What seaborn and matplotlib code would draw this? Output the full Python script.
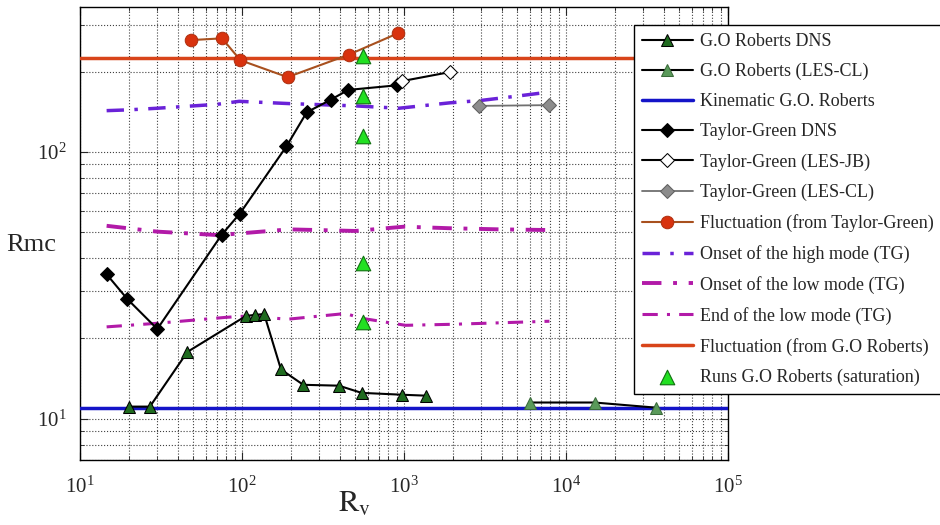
import matplotlib
matplotlib.use("Agg")
import matplotlib.pyplot as plt
import seaborn as sns

# ---- data (log-log) ----
go_dns_x = [20, 27, 46, 106, 120, 137, 174, 239, 396, 547, 973, 1370]
go_dns_y = [11.1, 11.1, 17.8, 24.3, 24.5, 24.7, 15.3, 13.4, 13.3, 12.5, 12.3, 12.2]

go_les_x = [6000, 15000, 36000]
go_les_y = [11.5, 11.5, 11.0]

kinematic_go = 11.0

tg_dns_x = [14.6, 19.6, 30, 75, 97, 188, 251, 352, 452, 906]
tg_dns_y = [34.8, 28.1, 21.7, 49, 58.8, 105, 141, 157, 171, 178]

tg_jb_x = [970, 1920]
tg_jb_y = [184.5, 199.5]

tg_cl_x = [2900, 7900]
tg_cl_y = [149, 150]

fluct_tg_x = [48.5, 75.3, 97.8, 191, 457, 918]
fluct_tg_y = [263, 267, 221, 191, 232, 279]

high_x = [14.6, 20, 30, 50, 70, 96, 195, 500, 930, 1920, 2940, 4940, 7920]
high_y = [143, 144, 146, 149, 151, 155, 152, 149, 146, 153, 156, 162, 168]

low_on_x = [14.6, 30, 72, 195, 500, 1000, 1920, 3900, 7900]
low_on_y = [52.9, 50.3, 48.8, 51.3, 50.6, 52.5, 51.8, 51.3, 51.0]

low_end_x = [14.6, 30, 80, 110, 190, 435, 550, 1020, 2000, 4000, 7900]
low_end_y = [22.1, 22.8, 24.0, 24.3, 23.6, 24.8, 23.8, 22.4, 22.6, 22.9, 23.2]

fluct_go = 226

sat_x = [555, 555, 555, 555, 555]
sat_y = [229, 162, 115, 38.3, 23.1]

sns.set_style("ticks")
plt.rcParams["font.family"] = ["Liberation Serif", "DejaVu Serif"]
plt.rcParams["mathtext.fontset"] = "stix"

fig = plt.figure(figsize=(9.4, 5.25), dpi=100)
ax = fig.add_axes([80 / 940, 1 - 460 / 525, 648 / 940, 453 / 525])
ax.set_xscale("log")
ax.set_yscale("log")

common = dict(ax=ax, sort=False, estimator=None)

sns.lineplot(x=go_dns_x, y=go_dns_y, color="black", lw=1.5, marker="^", markersize=9,
             markerfacecolor="#1f6b1f", markeredgecolor="black", label="G.O Roberts DNS",
             zorder=5, **common)
sns.lineplot(x=go_les_x, y=go_les_y, color="black", lw=1.5, marker="^", markersize=9,
             markerfacecolor="#5a9a5a", markeredgecolor="#3a6a3a", label="G.O Roberts (LES-CL)",
             zorder=5, **common)
ax.axhline(kinematic_go, color="#1414c8", lw=2.5, label="Kinematic G.O. Roberts", zorder=4)
sns.lineplot(x=tg_dns_x, y=tg_dns_y, color="black", lw=1.5, marker="D", markersize=7,
             markerfacecolor="black", markeredgecolor="black", label="Taylor-Green DNS",
             zorder=5, **common)
sns.lineplot(x=tg_jb_x, y=tg_jb_y, color="black", lw=1.5, marker="D", markersize=7,
             markerfacecolor="white", markeredgecolor="black", label="Taylor-Green (LES-JB)",
             zorder=5, **common)
sns.lineplot(x=tg_cl_x, y=tg_cl_y, color="#707070", lw=1.3, marker="D", markersize=7,
             markerfacecolor="#8c8c8c", markeredgecolor="#606060", label="Taylor-Green (LES-CL)",
             zorder=5, **common)
sns.lineplot(x=fluct_tg_x, y=fluct_tg_y, color="#a8501e", lw=1.5, marker="o", markersize=9,
             markerfacecolor="#d8320e", markeredgecolor="#b03010",
             label="Fluctuation (from Taylor-Green)", zorder=5, **common)
sns.lineplot(x=high_x, y=high_y, color="#6a22d8", lw=2.5, linestyle=(0, (5, 3, 1, 3)),
             label="Onset of the high mode (TG)", zorder=3, **common)
sns.lineplot(x=low_on_x, y=low_on_y, color="#b21aa8", lw=2.8, linestyle=(0, (5, 3, 1, 3)),
             label="Onset of the low mode (TG)", zorder=3, **common)
sns.lineplot(x=low_end_x, y=low_end_y, color="#b21aa8", lw=2.2, linestyle=(0, (5, 3, 1, 3)),
             label="End of the low mode (TG)", zorder=3, **common)
ax.axhline(fluct_go, color="#d8441a", lw=2.5, label="Fluctuation (from G.O Roberts)", zorder=4)
sns.scatterplot(x=sat_x, y=sat_y, ax=ax, marker="^", s=110, color="#22e022",
                edgecolor="#107010", linewidth=0.8, label="Runs G.O Roberts (saturation)",
                zorder=6)

ax.set_xlim(10, 1e5)
ax.set_ylim(7, 350)

ax.grid(True, which="both", linestyle=":", color="#404040", lw=0.8)
ax.tick_params(which="both", direction="in", top=True, right=True, labelsize=15)
ax.tick_params(which="major", length=6)
ax.tick_params(which="minor", length=3)
ax.tick_params(axis="x", which="both", pad=12)
ax.tick_params(axis="y", which="both", pad=10)
for s in ax.spines.values():
    s.set_color("black")
    s.set_linewidth(1)

ax.set_xlabel(r"$\mathrm{R_v}$", fontsize=22)
ax.xaxis.set_label_coords((355 - 80) / 648, -0.065)
ax.set_ylabel("Rmc", fontsize=19, rotation=0, ha="center", va="center")
ax.yaxis.set_label_coords(-0.075, 0.475)

leg = ax.legend(loc="upper left", bbox_to_anchor=(634 / 940, 1 - 25 / 525),
                bbox_transform=fig.transFigure, fontsize=13, frameon=True, fancybox=False,
                edgecolor="black", framealpha=1, handlelength=2.8, labelspacing=0.72,
                borderaxespad=0, handletextpad=0.4, borderpad=0.45)
leg.get_frame().set_linewidth(1)
leg.set_zorder(10)

fig.savefig("out.png", dpi=100)
